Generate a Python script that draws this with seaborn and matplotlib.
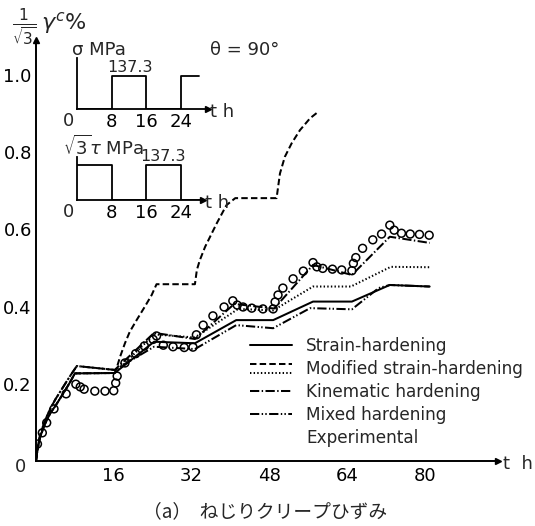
import numpy as np
import pandas as pd
import matplotlib
matplotlib.use('Agg')
import matplotlib.pyplot as plt
import seaborn as sns
from matplotlib.lines import Line2D
from matplotlib.legend_handler import HandlerBase

# ---- data (t in h, strain = gamma_c/sqrt(3) in %) ----
sh_t = [0, 0.3, 0.8, 1.5, 2.2, 3, 4, 5, 6, 7, 8.0, 16.2, 24.3, 32.7, 41.2, 48.8, 57, 65, 72.8, 81]
sh_y = [0, 0.03, 0.06, 0.085, 0.106, 0.125, 0.143, 0.163, 0.183, 0.204, 0.227, 0.228,
        0.309, 0.305, 0.365, 0.365, 0.413, 0.413, 0.456, 0.452]

msh_t = [0, 0.3, 0.8, 1.5, 2.2, 3, 4, 5, 6, 7, 8.0, 16.2, 16.7, 17.3, 18.3, 19.3, 20.7, 22.4,
         23.8, 24.8, 32.7, 33.1, 33.7, 34.8, 37.2, 39.2, 41.0, 49.5, 50.2, 51.2, 52.6, 54.3,
         56.4, 58.1]
msh_y = [0, 0.03, 0.06, 0.085, 0.106, 0.125, 0.143, 0.163, 0.183, 0.204, 0.227, 0.228, 0.245,
         0.27, 0.305, 0.335, 0.365, 0.40, 0.43, 0.458, 0.458, 0.495, 0.52, 0.555, 0.616, 0.663,
         0.681, 0.681, 0.745, 0.788, 0.823, 0.857, 0.888, 0.905]

msh2_t = [0, 0.3, 0.8, 1.5, 2.2, 3, 4, 5, 6, 7, 8.0, 16.2, 24.3, 32.7, 41.6, 48.8, 57, 64.8, 73, 81]
msh2_y = [0, 0.03, 0.06, 0.085, 0.106, 0.125, 0.143, 0.163, 0.183, 0.204, 0.227, 0.228,
          0.328, 0.32, 0.394, 0.39, 0.452, 0.452, 0.503, 0.502]

kin_t = [0, 0.3, 0.8, 1.5, 2.2, 3, 4, 5, 6, 7, 8.4, 16.2, 24.3, 32.7, 40.8, 49, 57, 65, 72.8, 81]
kin_y = [0, 0.03, 0.065, 0.092, 0.115, 0.137, 0.16, 0.18, 0.2, 0.22, 0.246, 0.236,
         0.332, 0.316, 0.407, 0.395, 0.508, 0.482, 0.581, 0.565]

mix_t = [0, 0.3, 0.8, 1.5, 2.2, 3, 4, 5, 6, 7, 8.4, 16.2, 24.3, 32.7, 41.2, 48.8, 56.4, 65, 70.5, 72.8, 81]
mix_y = [0, 0.03, 0.065, 0.092, 0.115, 0.137, 0.16, 0.18, 0.2, 0.22, 0.246, 0.236,
         0.296, 0.29, 0.352, 0.344, 0.396, 0.393, 0.448, 0.456, 0.452]

exp_t = [0.3, 1.3, 2.2, 3.7, 6.2, 8.2, 9.1, 9.9, 12.1, 14.2, 16.0, 16.4, 16.7, 18.3, 20.5, 22.3,
         24.1, 24.8, 26.2, 28.2, 30.5, 32.3, 33.0, 34.4, 36.4, 38.7, 40.5, 41.4, 42.6, 44.4,
         46.7, 48.8, 49.2, 49.8, 50.8, 52.9, 55.0, 57.0, 57.8, 59.0, 61.0, 62.9, 65.0, 65.3,
         65.8, 67.2, 69.3, 71.1, 72.8, 73.7, 75.2, 77.0, 78.9, 80.9]
exp_y = [0.044, 0.073, 0.099, 0.135, 0.174, 0.199, 0.192, 0.186, 0.181, 0.181, 0.182, 0.202,
         0.22, 0.254, 0.278, 0.298, 0.315, 0.324, 0.30, 0.296, 0.294, 0.295, 0.327, 0.352,
         0.376, 0.399, 0.415, 0.404, 0.399, 0.396, 0.394, 0.394, 0.412, 0.43, 0.448, 0.472,
         0.492, 0.514, 0.503, 0.499, 0.497, 0.495, 0.493, 0.512, 0.527, 0.551, 0.573, 0.588,
         0.611, 0.598, 0.59, 0.588, 0.587, 0.585]

# loading histories of the insets (MPa)
sig_t = [0, 8, 16, 24, 28.2]
sig_v = [0, 137.3, 0, 137.3, 137.3]
tau_t = [0, 8, 16, 24, 29]
tau_v = [137.3, 0, 137.3, 0, 0]

x_ticks = [16, 32, 48, 64, 80]
y_ticks = [0.2, 0.4, 0.6, 0.8, 1.0]

models = {
    'Strain-hardening': (sh_t, sh_y),
    'Modified strain-hardening': (msh_t, msh_y),
    'Modified strain-hardening (2)': (msh2_t, msh2_y),
    'Kinematic hardening': (kin_t, kin_y),
    'Mixed hardening': (mix_t, mix_y),
}
df = pd.concat([pd.DataFrame({'t': t, 'strain': y, 'model': m}) for m, (t, y) in models.items()],
               ignore_index=True)
dash_map = {
    'Strain-hardening': '',
    'Modified strain-hardening': (3.2, 1.6),
    'Modified strain-hardening (2)': (0.7, 1.1),
    'Kinematic hardening': (4.6, 1.2, 0.7, 1.2),
    'Mixed hardening': (4.6, 1.2, 0.7, 1.1, 0.7, 1.2),
}
LW = 1.45

sns.set_theme(style='white')
plt.rcParams['font.family'] = ['DejaVu Sans', 'Noto Sans CJK JP']
plt.rcParams['mathtext.fontset'] = 'dejavusans'

W, H = 535, 526
fig = plt.figure(figsize=(W / 100, H / 100), dpi=100)


def fx(px):
    return px / W


def fy(py):
    return 1 - py / H


# main axes: origin at (36, 461) px, 4.86 px/h, 386 px per 1 %
ax = fig.add_axes([fx(36), fy(461), 95 * 4.86 / W, 1.09 * 386 / H])
ax.patch.set_alpha(0)
sns.lineplot(data=df, x='t', y='strain', style='model', dashes=dash_map, color='black',
             linewidth=LW, estimator=None, sort=False, legend=False, ax=ax)
sns.scatterplot(x=exp_t, y=exp_y, marker='o', s=32, facecolor='none', edgecolor='black',
                linewidth=1.1, ax=ax, zorder=5)
ax.set_xlim(0, 95)
ax.set_ylim(0, 1.09)
ax.set_xlabel('')
ax.set_ylabel('')
for s in ['top', 'right']:
    ax.spines[s].set_visible(False)
for s in ['left', 'bottom']:
    ax.spines[s].set_color('black')
    ax.spines[s].set_linewidth(1.4)
ax.plot(1, 0, '>', color='black', ms=5, transform=ax.transAxes, clip_on=False)
ax.plot(0, 1, '^', color='black', ms=4, transform=ax.transAxes, clip_on=False)
ax.set_xticks(x_ticks)
ax.set_xticklabels([str(v) for v in x_ticks])
ax.set_yticks(y_ticks)
ax.set_yticklabels([f'{v:.1f}' for v in y_ticks])
ax.tick_params(direction='in', length=5, width=1, colors='black', labelsize=13, pad=4)
ax.tick_params(axis='y', pad=3)

fig.text(fx(20), fy(467), '0', fontsize=13, ha='center', va='center')
fig.text(fx(503), fy(464), 't  h', fontsize=13, ha='left', va='center')
fig.text(fx(12), fy(27), r'$\frac{1}{\sqrt{3}}\,\gamma^{c}$%', fontsize=16, ha='left', va='center')
fig.text(fx(210), fy(50), 'θ = 90°', fontsize=13, ha='left', va='center')


# legend with the two "modified" samples stacked
class StackedHandler(HandlerBase):
    def create_artists(self, legend, orig_handle, xdescent, ydescent, width, height, fontsize, trans):
        mid = (height - ydescent) / 2.0
        gap = 0.26 * fontsize
        out = []
        for h, yy in zip(orig_handle, (mid + gap, mid - gap)):
            ln = Line2D([-xdescent, width - xdescent], [yy, yy])
            ln.update_from(h)
            ln.set_transform(trans)
            out.append(ln)
        return out


def sample(m):
    d = dash_map[m]
    if d == '':
        return Line2D([], [], color='black', lw=LW, ls='-')
    return Line2D([], [], color='black', lw=LW, dashes=d)


handles = [sample('Strain-hardening'),
           (sample('Modified strain-hardening'), sample('Modified strain-hardening (2)')),
           sample('Kinematic hardening'), sample('Mixed hardening'),
           Line2D([], [], ls='none')]
labels = ['Strain-hardening', 'Modified strain-hardening', 'Kinematic hardening',
          'Mixed hardening', 'Experimental']
ax.legend(handles, labels, handler_map={tuple: StackedHandler()}, loc='upper left',
          bbox_to_anchor=(fx(250), fy(337)), bbox_transform=fig.transFigure, frameon=False,
          fontsize=12.2, handlelength=2.5, handletextpad=0.8, labelspacing=0.3,
          borderpad=0, borderaxespad=0)

# insets with the loading histories
ins1 = fig.add_axes([fx(77), fy(109), 131 / W, 51 / H])
ins2 = fig.add_axes([fx(77), fy(200), 126 / W, 43 / H])
for a, tt, vv, xmax, ymax in [(ins1, sig_t, sig_v, 30.3, 212), (ins2, tau_t, tau_v, 29.1, 168.7)]:
    a.patch.set_alpha(0)
    sns.lineplot(x=tt, y=vv, drawstyle='steps-post', color='black', linewidth=1.3,
                 estimator=None, sort=False, ax=a)
    a.set_xlim(0, xmax)
    a.set_ylim(0, ymax)
    for s in ['top', 'right']:
        a.spines[s].set_visible(False)
    for s in ['left', 'bottom']:
        a.spines[s].set_color('black')
        a.spines[s].set_linewidth(1.3)
    a.plot(1, 0, '>', color='black', ms=4, transform=a.transAxes, clip_on=False)
    a.set_xticks([8, 16, 24])
    a.set_xticklabels(['8', '16', '24'])
    a.set_yticks([])
    a.tick_params(axis='x', length=0, labelsize=13, pad=3, colors='black')

fig.text(fx(68), fy(121), '0', fontsize=13, ha='center', va='center')
fig.text(fx(68), fy(212), '0', fontsize=13, ha='center', va='center')
fig.text(fx(210), fy(112), 't h', fontsize=13, ha='left', va='center')
fig.text(fx(205), fy(203), 't h', fontsize=13, ha='left', va='center')
fig.text(fx(72), fy(50), 'σ MPa', fontsize=13, ha='left', va='center')
fig.text(fx(63), fy(147), r'$\sqrt{3}\tau$ MPa', fontsize=13, ha='left', va='center')
fig.text(fx(130), fy(68), '137.3', fontsize=11.5, ha='center', va='center')
fig.text(fx(163), fy(157), '137.3', fontsize=11.5, ha='center', va='center')

fig.text(fx(265), fy(512), '（a）  ねじりクリープひずみ', fontsize=13.5, ha='center', va='center',
         family=['Noto Sans CJK JP', 'DejaVu Sans'])

fig.savefig('out.png', dpi=100)
